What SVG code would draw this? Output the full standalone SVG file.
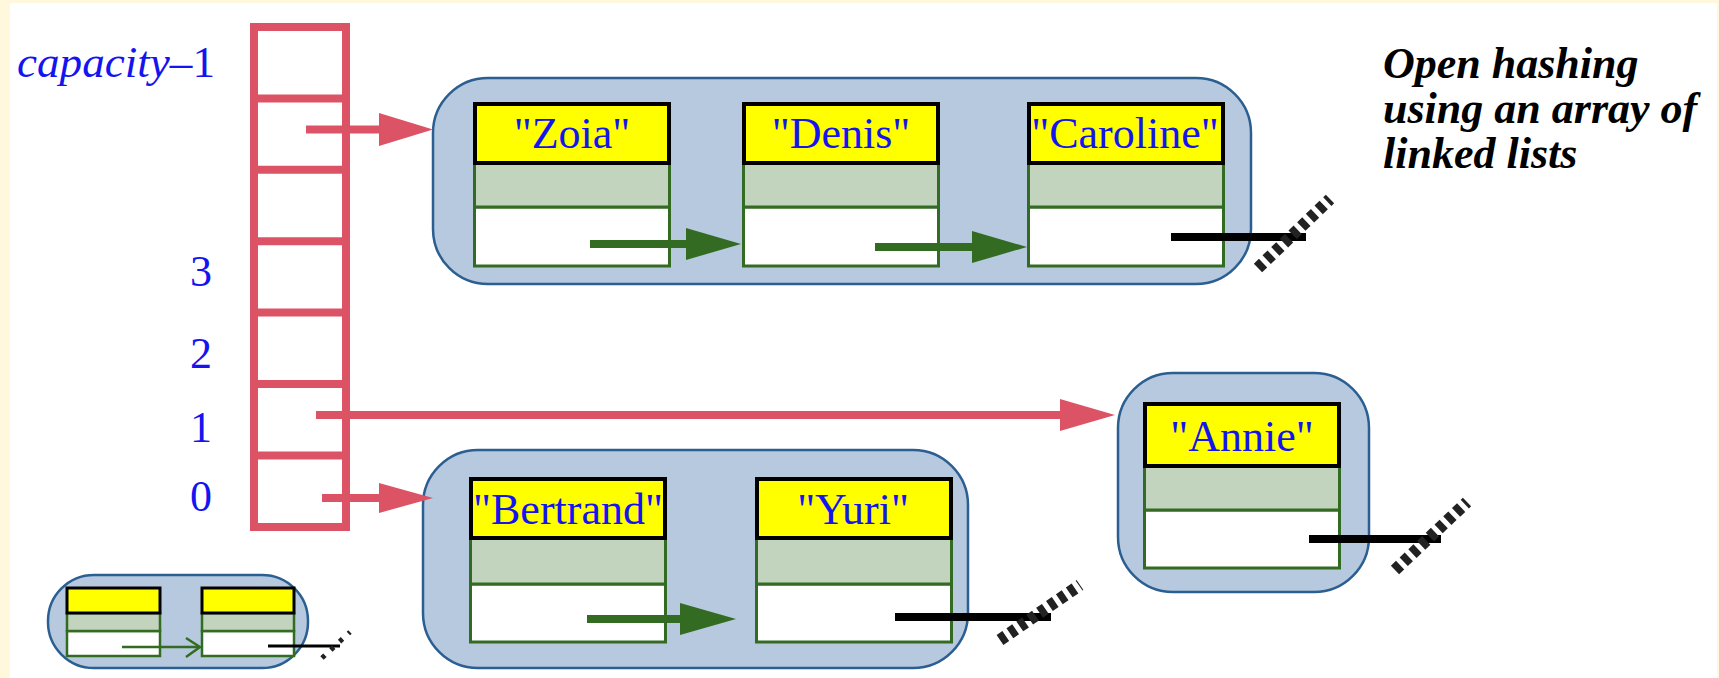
<svg xmlns="http://www.w3.org/2000/svg" width="1719" height="678" viewBox="0 0 1719 678">
<defs>
<style>
.bg{fill:#FFF8DC}
.cont{fill:#B6C9DE;stroke:#2B5E91;stroke-width:2.5}
.yel{fill:#FFFF00;stroke:#000;stroke-width:4}
.gry{fill:#C2D4BE;stroke:#336B22;stroke-width:3}
.wht{fill:#fff;stroke:#336B22;stroke-width:3}
.yels{fill:#FFFF00;stroke:#000;stroke-width:3}
.grys{fill:#C2D4BE;stroke:#336B22;stroke-width:2.5}
.whts{fill:#fff;stroke:#336B22;stroke-width:2.5}
.lbl{font-family:"Liberation Serif","Times New Roman",serif;font-size:44px;fill:#1414F0;text-anchor:middle}
.idx{font-family:"Liberation Serif","Times New Roman",serif;font-size:44px;fill:#1414F0}
.title{font-family:"Liberation Serif","Times New Roman",serif;font-size:44px;font-weight:bold;font-style:italic;fill:#000}
.red{stroke:#DB5365;stroke-width:8;fill:none}
.redh{fill:#DB5365}
.grn{stroke:#336B22;stroke-width:8;fill:none}
.grnh{fill:#336B22}
.nul{stroke:#000;stroke-width:8;fill:none}
.hatch{stroke:#222;stroke-width:12;stroke-dasharray:7 5;fill:none}
</style>
</defs>
<rect class="bg" x="0" y="0" width="1719" height="678"/>
<rect x="10" y="3" width="1707" height="675" fill="#fff"/>

<g id="array">
<rect x="254" y="27" width="92" height="500" fill="#fff" stroke="#DB5365" stroke-width="8"/>
<g stroke="#DB5365" stroke-width="8">
<line x1="254" y1="98.4" x2="346" y2="98.4"/>
<line x1="254" y1="169.8" x2="346" y2="169.8"/>
<line x1="254" y1="241.2" x2="346" y2="241.2"/>
<line x1="254" y1="312.6" x2="346" y2="312.6"/>
<line x1="254" y1="384" x2="346" y2="384"/>
<line x1="254" y1="455.4" x2="346" y2="455.4"/>
</g>
</g>

<g id="indices">
<text class="idx" x="17" y="77" textLength="198" lengthAdjust="spacingAndGlyphs"><tspan font-style="italic">capacity</tspan>–1</text>
<text class="idx" x="201" y="286" text-anchor="middle">3</text>
<text class="idx" x="201" y="368" text-anchor="middle">2</text>
<text class="idx" x="201" y="442" text-anchor="middle">1</text>
<text class="idx" x="201" y="511" text-anchor="middle">0</text>
</g>

<g id="title">
<text class="title" x="1383" y="78">Open hashing</text>
<text class="title" x="1383" y="123">using an array of</text>
<text class="title" x="1383" y="168">linked lists</text>
</g>

<g id="list-top">
<rect class="cont" x="433" y="78" width="818" height="206" rx="55" ry="55"/>
</g>
<g id="list-annie">
<rect class="cont" x="1118" y="373" width="251" height="219" rx="55" ry="55"/>
</g>
<g id="list-bottom">
<rect class="cont" x="423" y="450" width="545" height="218" rx="55" ry="55"/>
</g>

<g id="node-zoia" transform="translate(473,102)">
<rect class="wht" x="1.5" y="105" width="195" height="59"/>
<rect class="gry" x="1.5" y="61" width="195" height="44"/>
<rect class="yel" x="2" y="2" width="194" height="59"/>
<text class="lbl" x="99" y="46">"Zoia"</text>
</g>
<g id="node-denis" transform="translate(742,102)">
<rect class="wht" x="1.5" y="105" width="195" height="59"/>
<rect class="gry" x="1.5" y="61" width="195" height="44"/>
<rect class="yel" x="2" y="2" width="194" height="59"/>
<text class="lbl" x="99" y="46">"Denis"</text>
</g>
<g id="node-caroline" transform="translate(1027,102)">
<rect class="wht" x="1.5" y="105" width="195" height="59"/>
<rect class="gry" x="1.5" y="61" width="195" height="44"/>
<rect class="yel" x="2" y="2" width="194" height="59"/>
<text class="lbl" x="98" y="46">"Caroline"</text>
</g>
<g id="node-annie" transform="translate(1143,402)">
<rect class="wht" x="1.5" y="108" width="195" height="58"/>
<rect class="gry" x="1.5" y="64" width="195" height="44"/>
<rect class="yel" x="2" y="2" width="194" height="62"/>
<text class="lbl" x="99" y="49">"Annie"</text>
</g>
<g id="node-bertrand" transform="translate(469,477)">
<rect class="wht" x="1.5" y="107" width="195" height="58"/>
<rect class="gry" x="1.5" y="61" width="195" height="46"/>
<rect class="yel" x="2" y="2" width="194" height="59"/>
<text class="lbl" x="99" y="47">"Bertrand"</text>
</g>
<g id="node-yuri" transform="translate(755,477)">
<rect class="wht" x="1.5" y="107" width="195" height="58"/>
<rect class="gry" x="1.5" y="61" width="195" height="46"/>
<rect class="yel" x="2" y="2" width="194" height="59"/>
<text class="lbl" x="98" y="47">"Yuri"</text>
</g>

<g id="legend">
<rect class="cont" x="48" y="575" width="260" height="93" rx="46" ry="46"/>
<rect class="whts" x="67" y="631" width="93" height="25"/>
<rect class="grys" x="67" y="613" width="93" height="18"/>
<rect class="yels" x="67" y="588" width="93" height="25"/>
<rect class="whts" x="202" y="631" width="92" height="25"/>
<rect class="grys" x="202" y="613" width="92" height="18"/>
<rect class="yels" x="202" y="588" width="92" height="25"/>
</g>

<g id="connectors">
<line class="red" x1="306" y1="129.5" x2="382" y2="129.5"/>
<polygon class="redh" points="379,113 433,129.5 379,146"/>
<line class="red" x1="316" y1="415" x2="1063" y2="415"/>
<polygon class="redh" points="1060,399 1115,415 1060,431"/>
<line class="red" x1="322" y1="498" x2="382" y2="498"/>
<polygon class="redh" points="379,483 433,498 379,513"/>

<line class="grn" x1="590" y1="244" x2="690" y2="244"/>
<polygon class="grnh" points="686,228 741,244 686,260"/>
<line class="grn" x1="875" y1="247" x2="975" y2="247"/>
<polygon class="grnh" points="972,231 1027,247 972,263"/>
<line class="grn" x1="587" y1="619" x2="683" y2="619"/>
<polygon class="grnh" points="680,603 736,619 680,635"/>

<line class="nul" x1="1171" y1="237" x2="1306" y2="237"/>
<line class="hatch" x1="1258" y1="268" x2="1330" y2="199"/>
<line class="nul" x1="1309" y1="539" x2="1441" y2="539"/>
<line class="hatch" x1="1395" y1="570" x2="1467" y2="502"/>
<line class="nul" x1="895" y1="617" x2="1051" y2="617"/>
<line class="hatch" x1="1000" y1="640" x2="1080" y2="585"/>

<line x1="122" y1="647" x2="199" y2="647" stroke="#336B22" stroke-width="2.5"/>
<polyline points="186,638 200,647 186,657" fill="none" stroke="#336B22" stroke-width="2.5"/>
<line x1="268" y1="646" x2="340" y2="646" stroke="#000" stroke-width="3"/>
<line x1="322" y1="658" x2="350" y2="632" stroke="#222" stroke-width="5" stroke-dasharray="4 8"/>
</g>
</svg>
